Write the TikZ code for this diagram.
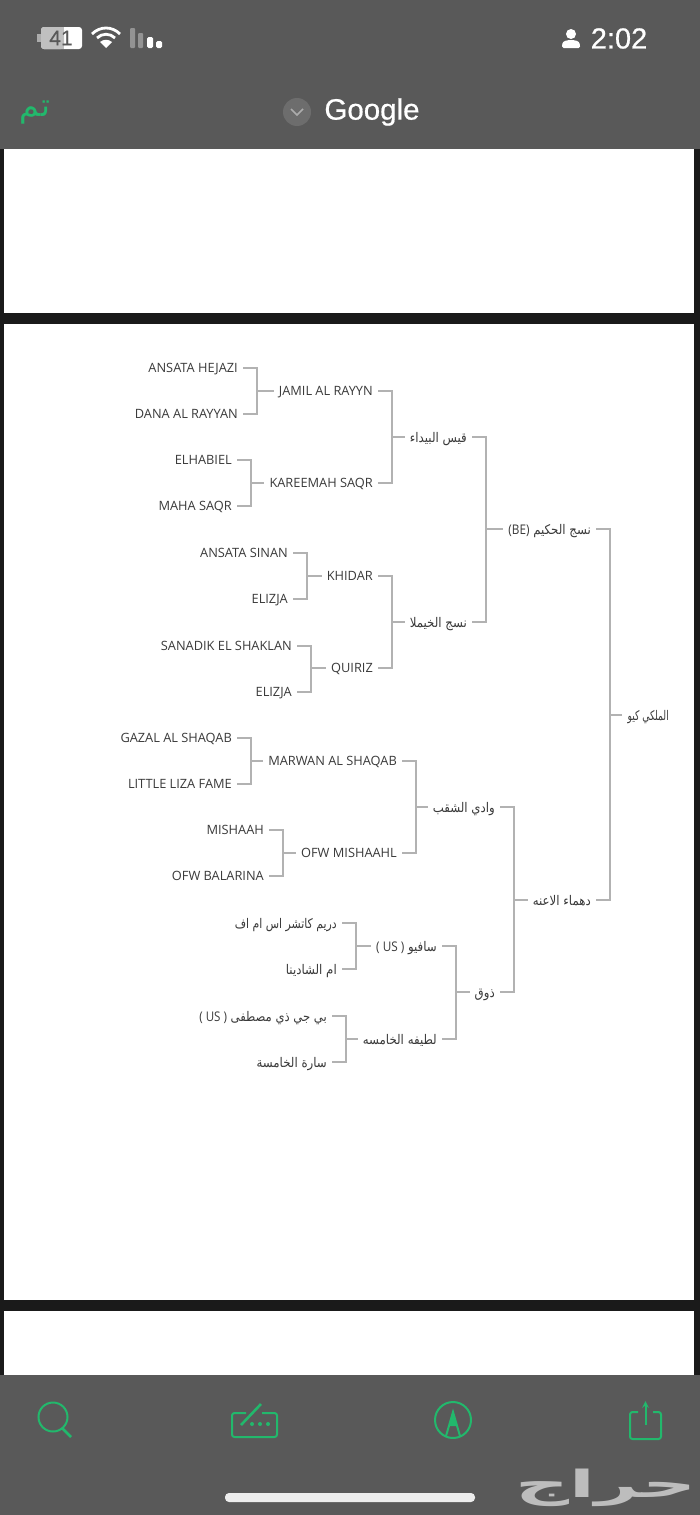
\documentclass[tikz,border=0pt]{standalone}
\usepackage{fontspec}
\setmainfont{Open Sans}
\newfontfamily\arabicfont[Script=Arabic]{DejaVu Sans}
\newfontfamily\barfont[FakeBold=0.6]{Liberation Sans}
\TeXXeTstate=1
\newcommand{\artxt}[1]{{\arabicfont\beginR #1\endR}}
\newcommand{\arlab}[2][.885]{\scalebox{#1}[1]{\artxt{#2}}}
\definecolor{barbg}{HTML}{595959}
\definecolor{gapbg}{HTML}{1A1A1A}
\definecolor{linkgray}{HTML}{B2B2B2}
\definecolor{labelgray}{HTML}{3A3A3A}
\definecolor{okgreen}{HTML}{22B86C}
\tikzset{
  lbl/.style={anchor=east,inner xsep=5pt,inner ysep=0pt,text=labelgray,text height=9.3pt,text depth=0pt,font=\fontsize{12.8}{14}\selectfont},
  arlbl/.style={lbl,text height=10pt,font=\fontsize{13.3}{14}\selectfont},
  link/.style={draw=linkgray,line width=1.9pt},
  tool/.style={draw=okgreen,line width=2pt}
}
\begin{document}
\begin{tikzpicture}[x=1pt,y=-1pt,>=stealth]
    \useasboundingbox (0,0) rectangle (700,1515);
    % screen
    \fill[gapbg] (0,0) rectangle (700,1515);
    \fill[white] (4,149) rectangle (694,313);
    \fill[white] (4,324) rectangle (694,1300);
    \fill[white] (4,1311) rectangle (694,1376);
    \fill[barbg] (0,0) rectangle (700,149);
    \fill[barbg] (0,1375) rectangle (700,1515);
    % status bar
    \fill[white!50!barbg] (37,34) rectangle (41,42);
    \fill[white,rounded corners=3pt] (41,27) rectangle (82,49);
    \fill[white!62!barbg,rounded corners=3pt] (41,27) rectangle (64,49);
    \fill[white!62!barbg] (60,27) rectangle (64,49);
    \node[inner sep=0pt,text=barbg,font=\barfont\fontsize{21}{21}\selectfont] (batt) at (61,38) {41};
    \fill[white] (106,48) -- (100,42) .. controls (104,39) and (108,39) .. (112,42) -- cycle;
    \draw[white,line width=2.8pt] (97,38) .. controls (102,33) and (110,33) .. (115,38);
    \draw[white,line width=2.8pt] (92,34) .. controls (100,26) and (112,26) .. (120,34);
    \fill[white!35!barbg,rounded corners=1pt] (130,28) rectangle (135,48);
    \fill[white!35!barbg,rounded corners=1pt] (138,33) rectangle (143,48);
    \fill[white,rounded corners=1.5pt] (147,37) rectangle (153,48);
    \fill[white,rounded corners=1.5pt] (156,41) rectangle (162,48);
    \fill[white] (571,34) circle (5);
    \fill[white,rounded corners=1.5pt] (562,48) -- (562,45) .. controls (563,41) and (567,40) .. (571,40) .. controls (575,40) and (579,41) .. (580,45) -- (580,48) -- cycle;
    \node[inner sep=0pt,text=white,font=\barfont\fontsize{29}{29}\selectfont] (clock) at (619,38.5) {2:02};
    % title bar
    \node[inner sep=0pt,text=okgreen,font=\arabicfont\fontsize{32}{32}\selectfont] (done) at (35,113) {\artxt{تم}};
    \fill[white!12!barbg] (297,112) circle (14);
    \draw[white!50!barbg,line width=1.6pt] (291,109) -- (297,115) -- (303,109);
    \node[inner sep=0pt,text=white,font=\barfont\fontsize{29.5}{30}\selectfont] (title) at (372,112) {Google};
    % leaves
    \node[lbl] (hejazi) at (243,368) {ANSATA HEJAZI};
    \node[lbl] (dana) at (243,414) {DANA AL RAYYAN};
    \node[lbl] (elhabiel) at (237,460) {ELHABIEL};
    \node[lbl] (maha) at (237,506) {MAHA SAQR};
    \node[lbl] (sinan) at (293,553) {ANSATA SINAN};
    \node[lbl] (elizjaa) at (293,599) {ELIZJA};
    \node[lbl] (sanadik) at (297,646) {SANADIK EL SHAKLAN};
    \node[lbl] (elizjab) at (297,692) {ELIZJA};
    \node[lbl] (gazal) at (237,738) {GAZAL AL SHAQAB};
    \node[lbl] (liza) at (237,784) {LITTLE LIZA FAME};
    \node[lbl] (mishaah) at (269,830) {MISHAAH};
    \node[lbl] (balarina) at (269,876) {OFW BALARINA};
    \node[arlbl] (dream) at (342,923) {\arlab[.82]{دريم كاتشر اس ام اف}};
    \node[arlbl] (shadina) at (342,969) {\arlab{ام الشادينا}};
    \node[arlbl] (mustafa) at (332,1016) {\arlab[.87]{بي جي ذي مصطفى \beginL{\normalfont( US )}\endL}};
    \node[arlbl] (sara) at (332,1062) {\arlab{سارة الخامسة}};
    % second column
    \node[lbl] (jamil) at (378,391) {JAMIL AL RAYYN};
    \node[lbl] (kareemah) at (378,483) {KAREEMAH SAQR};
    \node[lbl] (khidar) at (378,576) {KHIDAR};
    \node[lbl] (quiriz) at (378,668) {QUIRIZ};
    \node[lbl] (marwan) at (402,761) {MARWAN AL SHAQAB};
    \node[lbl] (mishaahl) at (402,853) {OFW MISHAAHL};
    \node[arlbl] (safio) at (442,946) {\arlab{سافيو \beginL{\normalfont( US )}\endL}};
    \node[arlbl] (latifa) at (442,1039) {\arlab{لطيفه الخامسه}};
    % third column
    \node[arlbl] (qais) at (472,437) {\arlab{قيس البيداء}};
    \node[arlbl] (khaimala) at (472,622) {\arlab{نسج الخيملا}};
    \node[arlbl] (wadi) at (500,807) {\arlab{وادي الشقب}};
    \node[arlbl] (dhawq) at (500,992) {\arlab{ذوق}};
    % root side
    \node[arlbl] (naseej) at (596,529) {\arlab{نسج الحكيم \beginL{\normalfont(BE)}\endL}};
    \node[arlbl] (dahma) at (596,900) {\arlab{دهماء الاعنه}};
    \node[arlbl] (malaki) at (674,715) {\arlab[.69]{الملكي كيو}};
    % brackets
    \foreach \kida/\kidb/\sire in {hejazi/dana/jamil,elhabiel/maha/kareemah,sinan/elizjaa/khidar,sanadik/elizjab/quiriz,
      gazal/liza/marwan,mishaah/balarina/mishaahl,dream/shadina/safio,mustafa/sara/latifa,
      jamil/kareemah/qais,khidar/quiriz/khaimala,marwan/mishaahl/wadi,safio/latifa/dhawq,
      qais/khaimala/naseej,wadi/dhawq/dahma,naseej/dahma/malaki}
      \draw[link] (\kida.east) -- +(14,0) |- (\sire.west) (\kidb.east) -- +(14,0) |- (\sire.west);
    % toolbar
    \draw[tool] (53,1417) circle (14.5);
    \draw[tool,line width=2.6pt] (62,1428) -- (71,1437);
    \draw[tool,rounded corners=2.5pt] (246,1413) -- (232,1413) -- (232,1437) -- (277,1437) -- (277,1413) -- (262,1413);
    \draw[tool,line width=2.6pt] (241,1425) -- (261,1404);
    \fill[okgreen] (252,1424) circle (2) (260,1424) circle (2) (268,1424) circle (2);
    \draw[tool] (453,1420) circle (18);
    \draw[tool] (446,1436) -- (453,1412) -- (460,1436);
    \fill[okgreen] (453,1412) -- (449,1426) -- (457,1426) -- cycle;
    \draw[tool,rounded corners=2.5pt] (638,1412) -- (630,1412) -- (630,1439) -- (661,1439) -- (661,1412) -- (653,1412);
    \draw[tool,->] (645.5,1425) -- (645.5,1401);
    \fill[white!93!black,rounded corners=4pt] (225,1493) rectangle (475,1502);
    \node[inner sep=0pt,text=white!60!barbg,font=\arabicfont\bfseries\fontsize{50}{50}\selectfont] (mark) at (606,1488) {\scalebox{1.5}[.75]{\artxt{حراج}}};
\end{tikzpicture}
\end{document}
